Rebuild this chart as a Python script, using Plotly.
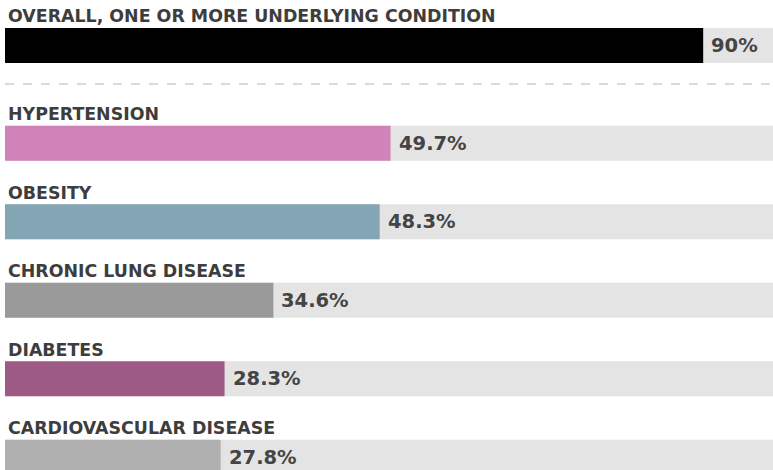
import plotly.graph_objects as go

categories = ["OVERALL, ONE OR MORE UNDERLYING CONDITION", "HYPERTENSION", "OBESITY",
              "CHRONIC LUNG DISEASE", "DIABETES", "CARDIOVASCULAR DISEASE"]
values = [90, 49.7, 48.3, 34.6, 28.3, 27.8]
value_labels = ["90%", "49.7%", "48.3%", "34.6%", "28.3%", "27.8%"]
colors = ["#000000", "#d083b8", "#84a5b4", "#9a9a9a", "#9c5a85", "#b0b0b0"]

# vertical layout positions (first bar separated by a divider)
ypos = [0] + [1.245 + i for i in range(len(categories) - 1)]
full = [100] * len(categories)

fig = go.Figure()
fig.add_trace(go.Bar(y=ypos, x=full, orientation="h", width=0.446,
                     marker=dict(color="#e4e4e4", line=dict(width=0)),
                     hoverinfo="skip", showlegend=False))
fig.add_trace(go.Bar(y=ypos, x=values, orientation="h", width=0.446,
                     marker=dict(color=colors, line=dict(width=0)),
                     hovertext=categories, showlegend=False))

font_family = "DejaVu Sans"
for c, y, v, lab in zip(categories, ypos, values, value_labels):
    fig.add_annotation(x=0, y=y - 0.372, xref="x", yref="y", text=c, showarrow=False,
                       xanchor="left", yanchor="middle", xshift=1,
                       font=dict(family=font_family, size=17.4, color="#3d3d3d", weight="bold"))
    fig.add_annotation(x=v, y=y, xref="x", yref="y", text=lab, showarrow=False,
                       xanchor="left", yanchor="middle", xshift=6,
                       font=dict(family=font_family, size=19.5, color="#444444", weight="bold"))

fig.add_shape(type="line", xref="paper", yref="y", x0=0, x1=1, y0=0.49, y1=0.49,
              line=dict(color="#b5b5b5", width=1.2, dash="dash"))

fig.update_layout(
    width=773, height=470,
    margin=dict(l=5, r=0, t=0, b=0),
    paper_bgcolor="white", plot_bgcolor="white",
    barmode="overlay",
    xaxis=dict(range=[0, 99], visible=False, fixedrange=True),
    yaxis=dict(range=[5.408, -0.58], visible=False, fixedrange=True),
)

fig.write_html("out.html", post_script="document.body.style.margin='0';",
               config={"displayModeBar": False})
